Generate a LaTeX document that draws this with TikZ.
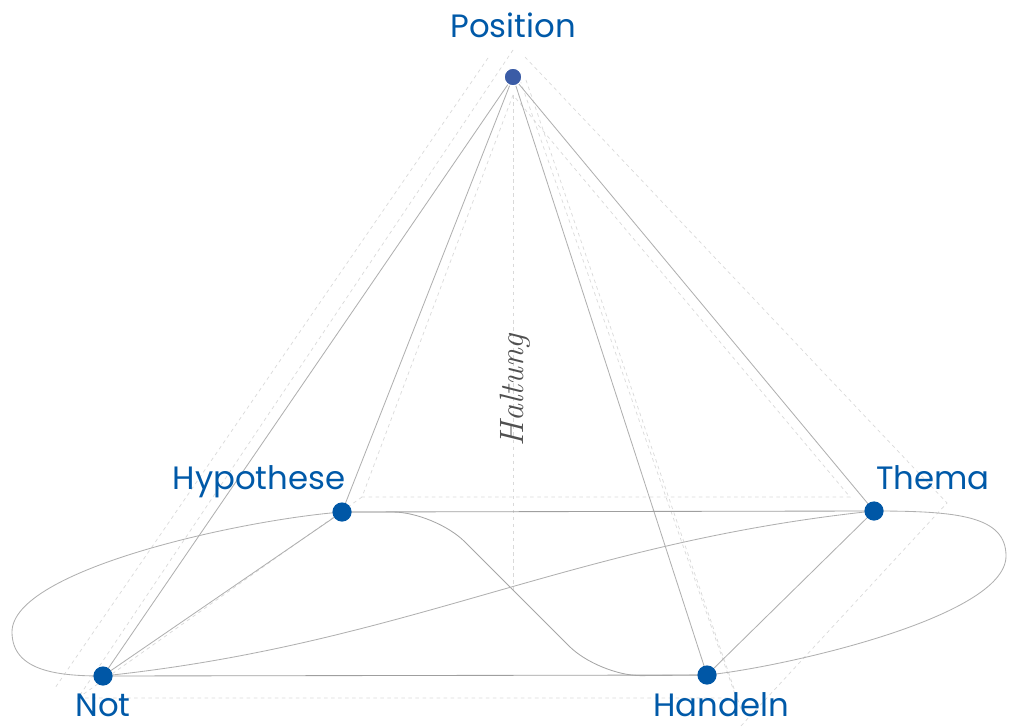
\documentclass[tikz,border=0pt]{standalone}
\usepackage{fontspec}
\setsansfont{Poppins}
\usepackage{tikz}

\definecolor{dotblue}{HTML}{0057A6}
\definecolor{posblue}{HTML}{3B5CA6}
\definecolor{lblblue}{HTML}{0059A8}
\definecolor{linegray}{HTML}{B0B0B0}
\definecolor{dashgray}{HTML}{D9D9D9}
\definecolor{haltgray}{HTML}{505050}

\begin{document}
\begin{tikzpicture}[x=0.025cm, y=-0.025cm,
    every dot/.style={circle, fill=dotblue, inner sep=0pt, minimum size=0.48cm},
    lbl/.style={font=\sffamily\fontsize{23}{27}\selectfont, text=lblblue, anchor=base, inner sep=0pt},
    link/.style={draw=linegray, line width=0.6pt},
    guide/.style={draw=dashgray, line width=0.5pt, dash pattern=on 2.5pt off 2.5pt}]
        \useasboundingbox (0,0) rectangle (1016,727);
        % construction lines
        \coordinate (top-a) at (513,50);
        \coordinate (top-b) at (488,58);
        \coordinate (top-c) at (513,95);
        \coordinate (mid) at (513,593);
        \draw [guide] (top-b) -- (55,688);
        \draw [guide] (top-a) -- (78,698) -- (732,698);
        \draw [guide] (520,80) -- (737,700);
        \draw [guide] (526,80) -- (742,712);
        \draw [guide] (525,57) -- (947,503) -- (740,727);
        \draw [guide] (top-c) -- (362,497) -- (850,497) -- cycle;
        \draw [guide] (362,497) -- (78,698);
        \draw [guide] (top-c) -- (mid);
        % points
        \foreach \n/\x/\y in {pos/513/77, hyp/342/512, thema/874/511, not/103/676, handeln/707/675}
          \coordinate (\n) at (\x,\y);
        % outline
        \draw [link] (hyp) .. controls (240,520) and (12,570) .. (12,632)
          .. controls (12,672) and (60,676) .. (not);
        \draw [link] (handeln) .. controls (778,668) and (1006,618) .. (1006,556)
          .. controls (1006,516) and (958,511) .. (thema);
        \foreach \t in {hyp, not, handeln, thema}
          \draw [link] (pos) -- (\t);
        \draw [link, draw=gray!75] (hyp) -- (thema);
        \draw [link, draw=gray!75] (not) -- (handeln);
        \draw [link] (hyp) -- (not);
        \draw [link] (thema) -- (handeln);
        \draw [link, draw=gray!70, rounded corners=30pt] (hyp) -- (435,512) -- (599,676) -- (handeln);
        \draw [link] (not) to [out=6, in=186] (thema);
        % dots and labels
        \foreach \n in {hyp, thema, not, handeln}
          \node [every dot/.try] (\n-dot) at (\n) {};
        \node [every dot/.try, fill=posblue, minimum size=0.44cm, draw=white, line width=0.8pt] (pos-dot) at (pos) {};
        \foreach \n/\l/\x/\y in {pos/Position/513/38, hyp/Hypothese/259/489, thema/Thema/933/489, not/Not/103/716, handeln/Handeln/721/716}
          \node [lbl] (\n-label) at (\x,\y) {\l};
        \node [rotate=90, text=haltgray, font=\itshape\fontsize{24}{28}\selectfont] (haltung) at (515,390) {Haltung};
    \end{tikzpicture}
\end{document}
